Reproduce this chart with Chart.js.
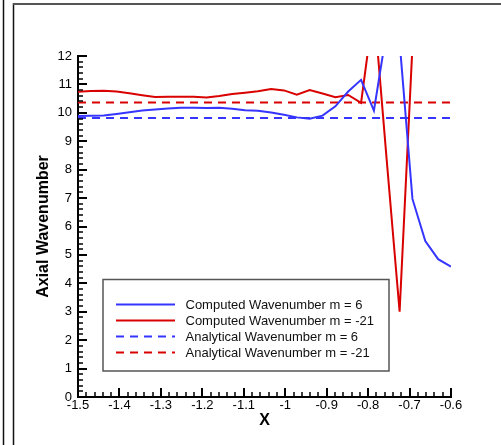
<!DOCTYPE html>
<html>
<head>
<meta charset="utf-8">
<script src="https://cdn.jsdelivr.net/npm/chart.js@4/dist/chart.umd.min.js"></script>
<style>
  html, body { margin: 0; padding: 0; background: #fff; }
  canvas { display: block; }
</style>
</head>
<body>
<canvas id="chart" width="501" height="445"></canvas>
<script>
"use strict";

// Sample positions along X
const xValues = [
  -1.5, -1.469, -1.438, -1.407, -1.376, -1.345, -1.314, -1.283, -1.252, -1.221,
  -1.19, -1.159, -1.128, -1.097, -1.066, -1.034, -1.003, -0.972, -0.941, -0.91,
  -0.879, -0.848, -0.817, -0.786, -0.755, -0.724, -0.693, -0.662, -0.631, -0.6
];

// Computed wavenumbers
const computedM6 = [
  9.89, 9.9, 9.91, 9.96, 10.02, 10.08, 10.12, 10.15, 10.18, 10.18,
  10.17, 10.18, 10.14, 10.09, 10.07, 10.01, 9.93, 9.84, 9.79, 9.9,
  10.23, 10.75, 11.16, 10.08, 12.9, 12.5, 6.97, 5.49, 4.85, 4.59
];
const computedM21 = [
  10.74, 10.77, 10.78, 10.75, 10.69, 10.62, 10.56, 10.57, 10.57, 10.57,
  10.54, 10.59, 10.66, 10.71, 10.76, 10.84, 10.79, 10.64, 10.8, 10.68,
  10.55, 10.63, 10.35, 13.75, 8.32, 3.0, 12.35, null, null, null
];

// Analytical wavenumbers (constant over the range)
const analyticalX = [-1.5, -0.6];
const analyticalM6 = [9.82, 9.82];
const analyticalM21 = [10.36, 10.36];

const seriesLabels = [
  "Computed Wavenumber m = 6",
  "Computed Wavenumber m = -21",
  "Analytical Wavenumber m = 6",
  "Analytical Wavenumber m = -21"
];

const xTickValues = [-1.5, -1.4, -1.3, -1.2, -1.1, -1, -0.9, -0.8, -0.7, -0.6];
const xTickLabels = ["-1.5", "-1.4", "-1.3", "-1.2", "-1.1", "-1", "-0.9", "-0.8", "-0.7", "-0.6"];
const yTickValues = [0, 1, 2, 3, 4, 5, 6, 7, 8, 9, 10, 11, 12];
const yTickLabels = ["0", "1", "2", "3", "4", "5", "6", "7", "8", "9", "10", "11", "12"];
const minorPerMajor = 5;

const FONT = "'Liberation Sans', Arial, Helvetica, sans-serif";
const BLUE = "#3535ff";
const RED = "#d90000";

const toPoints = (xs, ys) => xs.map((x, i) => ({ x: x, y: ys[i] }));

/**
 * Draws the page frame behind the chart.
 */
const framePlugin = {
  id: "frame",
  beforeDraw: (chart) => {
    const ctx = chart.ctx;
    ctx.save();
    ctx.fillStyle = "#fff";
    ctx.fillRect(0, 0, chart.width, chart.height);
    ctx.strokeStyle = "#111";
    ctx.lineWidth = 1.5;
    ctx.beginPath();
    ctx.moveTo(3.5, 0);
    ctx.lineTo(3.5, chart.height);
    ctx.moveTo(13.5, 3);
    ctx.lineTo(13.5, chart.height);
    ctx.stroke();
    ctx.strokeStyle = "#555";
    ctx.lineWidth = 2;
    ctx.beginPath();
    ctx.moveTo(13, 4);
    ctx.lineTo(chart.width, 4);
    ctx.stroke();
    ctx.restore();
  }
};

/**
 * Draws inward major and minor tick marks on both axes.
 */
const inwardTicksPlugin = {
  id: "inwardTicks",
  afterDraw: (chart) => {
    const ctx = chart.ctx;
    const xs = chart.scales.x;
    const ys = chart.scales.y;
    const area = chart.chartArea;
    ctx.save();
    ctx.strokeStyle = "#000";

    const drawTick = (vertical, value, len, width) => {
      ctx.lineWidth = width;
      ctx.beginPath();
      if (vertical) {
        const px = Math.round(xs.getPixelForValue(value));
        ctx.moveTo(px, area.bottom);
        ctx.lineTo(px, area.bottom - len);
      } else {
        const py = Math.round(ys.getPixelForValue(value));
        ctx.moveTo(area.left, py);
        ctx.lineTo(area.left + len, py);
      }
      ctx.stroke();
    };

    [[true, xTickValues], [false, yTickValues]].forEach(([vertical, ticks]) => {
      ticks.forEach((v, i) => {
        drawTick(vertical, v, 9, 2);
        if (i < ticks.length - 1) {
          const step = (ticks[i + 1] - v) / minorPerMajor;
          for (let k = 1; k < minorPerMajor; k++) {
            drawTick(vertical, v + step * k, 5, 1.5);
          }
        }
      });
    });
    ctx.restore();
  }
};

/**
 * Draws the boxed legend inside the plot area.
 */
const boxLegendPlugin = {
  id: "boxLegend",
  afterDraw: (chart) => {
    const ctx = chart.ctx;
    ctx.save();
    ctx.fillStyle = "#fff";
    ctx.fillRect(103, 279.5, 286, 91.5);
    ctx.strokeStyle = "#555";
    ctx.lineWidth = 1.5;
    ctx.strokeRect(103, 279.5, 286, 91.5);

    ctx.font = "13px " + FONT;
    ctx.textBaseline = "middle";
    ctx.textAlign = "left";
    chart.data.datasets.forEach((ds, i) => {
      const y = 304.5 + i * 16;
      ctx.strokeStyle = ds.borderColor;
      ctx.lineWidth = 2;
      ctx.setLineDash(ds.borderDash || []);
      ctx.beginPath();
      ctx.moveTo(116, y);
      ctx.lineTo(175, y);
      ctx.stroke();
      ctx.setLineDash([]);
      ctx.fillStyle = "#111";
      ctx.fillText(ds.label, 185.5, y + 0.5);
    });
    ctx.restore();
  }
};

const initChart = () => {
  const ctx = document.getElementById("chart").getContext("2d");

  new Chart(ctx, {
    type: "line",
    data: {
      datasets: [
        {
          label: seriesLabels[0],
          data: toPoints(xValues, computedM6),
          borderColor: BLUE,
          borderWidth: 2
        },
        {
          label: seriesLabels[1],
          data: toPoints(xValues, computedM21),
          borderColor: RED,
          borderWidth: 2
        },
        {
          label: seriesLabels[2],
          data: toPoints(analyticalX, analyticalM6),
          borderColor: BLUE,
          borderWidth: 2,
          borderDash: [8, 6]
        },
        {
          label: seriesLabels[3],
          data: toPoints(analyticalX, analyticalM21),
          borderColor: RED,
          borderWidth: 2,
          borderDash: [8, 6]
        }
      ]
    },
    options: {
      responsive: false,
      animation: false,
      events: [],
      layout: { padding: { left: 0, top: 56, right: 50, bottom: 0 } },
      datasets: {
        line: { pointRadius: 0, tension: 0, fill: false, clip: 0, spanGaps: false }
      },
      plugins: {
        legend: { display: false },
        tooltip: { enabled: false }
      },
      scales: {
        x: {
          type: "linear",
          min: -1.5,
          max: -0.6,
          afterBuildTicks: (s) => {
            s.ticks = xTickValues.map((v) => ({ value: v }));
          },
          afterFit: (s) => {
            s.height = 48;
          },
          grid: { display: false, drawTicks: false, tickLength: 0 },
          border: { display: true, color: "#000", width: 2 },
          ticks: {
            autoSkip: false,
            maxRotation: 0,
            padding: 1,
            color: "#000",
            font: { family: FONT, size: 13 },
            callback: (v, i) => xTickLabels[i]
          },
          title: {
            display: true,
            text: "X",
            color: "#000",
            font: { family: FONT, size: 16, weight: "bold" },
            padding: { top: 0, bottom: 15 }
          }
        },
        y: {
          type: "linear",
          min: 0,
          max: 12,
          afterBuildTicks: (s) => {
            s.ticks = yTickValues.map((v) => ({ value: v }));
          },
          afterFit: (s) => {
            s.width = 78;
          },
          grid: { display: false, drawTicks: false, tickLength: 0 },
          border: { display: true, color: "#000", width: 2 },
          ticks: {
            autoSkip: false,
            padding: 6,
            color: "#000",
            font: { family: FONT, size: 13 },
            callback: (v, i) => yTickLabels[i]
          },
          title: {
            display: true,
            text: "Axial Wavenumber",
            color: "#000",
            font: { family: FONT, size: 16, weight: "bold" },
            padding: { top: 34, bottom: 0 }
          }
        }
      }
    },
    plugins: [framePlugin, inwardTicksPlugin, boxLegendPlugin]
  });
};

document.addEventListener("DOMContentLoaded", initChart);
</script>
</body>
</html>
